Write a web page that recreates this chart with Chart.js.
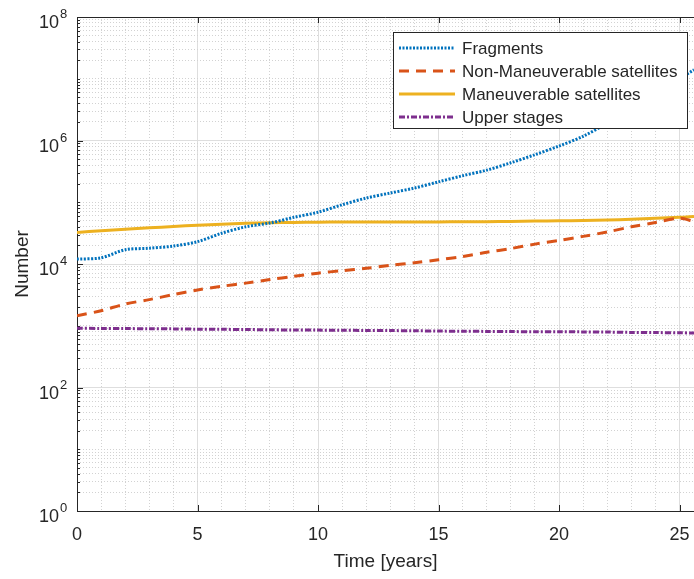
<!DOCTYPE html>
<html>
<head>
<meta charset="utf-8">
<script src="https://cdn.jsdelivr.net/npm/chart.js@4/dist/chart.umd.min.js"></script>
<style>
  html, body { margin: 0; padding: 0; background: #fff; overflow: hidden; }
</style>
</head>
<body>
<canvas id="chart" width="694" height="579"></canvas>
<script>
// values (years vs. number of objects)
const years = [0, 1, 2, 3, 4, 5, 6, 7, 8, 9, 10, 11, 12, 13, 14, 15, 16, 17, 18, 19, 20, 21, 22, 23, 24, 25, 25.6];
const fragments = [12000, 12600, 17000, 18000, 19500, 23000, 31500, 40000, 46000, 57000, 69000, 91000, 117000, 141000, 170000, 214000, 269000, 331000, 436000, 589000, 813000, 1170000, 1900000, 3200000, 5500000, 10000000, 14000000];
const nonManeuverable = [1450, 1750, 2250, 2650, 3200, 3800, 4350, 4900, 5600, 6300, 7100, 7800, 8500, 9500, 10500, 11700, 13200, 15500, 17800, 21000, 24000, 28000, 33000, 40000, 47000, 55000, 49000];
const maneuverable = [32500, 34500, 36500, 38500, 40500, 42500, 44000, 45500, 46500, 47000, 47500, 48000, 48000, 48000, 48000, 48000, 48500, 48500, 49000, 49500, 50000, 50500, 51500, 53000, 55000, 57000, 59000];
const upperStages = [910, 905, 900, 895, 890, 880, 875, 870, 860, 855, 850, 845, 840, 835, 830, 820, 815, 810, 805, 800, 800, 795, 790, 780, 775, 770, 760];
const seriesLabels = ['Fragments', 'Non-Maneuverable satellites', 'Maneuverable satellites', 'Upper stages'];

const xTicks = [0, 5, 10, 15, 20, 25];
const yTicks = [1, 1e2, 1e4, 1e6, 1e8];
const xMax = 25.6;

const FONT = '"Liberation Sans", Arial, sans-serif';
const INK = '#262626';

// minor grid positions
const xMinorTicks = [];
for (let i = 0; i <= 25; i++) if (i % 5 !== 0) xMinorTicks.push(i);
const yMinorTicks = [];
for (let n = 0; n < 8; n++) {
  for (let k = 1; k <= 9; k++) {
    const v = k * Math.pow(10, n);
    if (!yTicks.includes(v)) yMinorTicks.push(v);
  }
}

function pts(arr) {
  return years.map((x, i) => ({ x: x, y: arr[i] }));
}

// axes box: top border, inward ticks and 10^n labels like the original
const framePlugin = {
  id: 'frame',
  beforeDatasetsDraw(chart) {
    const { ctx, chartArea: a, scales } = chart;
    ctx.save();
    ctx.strokeStyle = INK;
    ctx.lineWidth = 1;
    ctx.beginPath();
    ctx.moveTo(a.left, a.top + 0.5);
    ctx.lineTo(a.right, a.top + 0.5);
    xTicks.forEach(v => {
      const px = Math.round(scales.x.getPixelForValue(v)) + 0.5;
      ctx.moveTo(px, a.bottom);
      ctx.lineTo(px, a.bottom - 6);
      ctx.moveTo(px, a.top);
      ctx.lineTo(px, a.top + 6);
    });
    yTicks.forEach(v => {
      const py = Math.round(scales.y.getPixelForValue(v)) + 0.5;
      ctx.moveTo(a.left, py);
      ctx.lineTo(a.left + 6, py);
    });
    yMinorTicks.forEach(v => {
      const py = Math.round(scales.y.getPixelForValue(v)) + 0.5;
      ctx.moveTo(a.left, py);
      ctx.lineTo(a.left + 3, py);
    });
    ctx.stroke();

    // y tick labels: "10" with a raised exponent
    ctx.fillStyle = INK;
    ctx.textBaseline = 'alphabetic';
    yTicks.forEach(v => {
      const py = scales.y.getPixelForValue(v);
      const e = String(Math.round(Math.log10(v)));
      ctx.font = '18px ' + FONT;
      ctx.textAlign = 'right';
      ctx.fillText('10', a.left - 18, py + 11);
      ctx.font = '13px ' + FONT;
      ctx.textAlign = 'left';
      ctx.fillText(e, a.left - 17, py + 1);
    });
    ctx.restore();
  }
};

// boxed legend in the upper right corner
const legendPlugin = {
  id: 'boxLegend',
  afterDraw(chart) {
    const { ctx, chartArea: a } = chart;
    const x0 = a.right - 301, y0 = a.top + 15, w = 294, h = 96;
    ctx.save();
    ctx.fillStyle = '#fff';
    ctx.fillRect(x0, y0, w, h);
    ctx.strokeStyle = INK;
    ctx.lineWidth = 1;
    ctx.strokeRect(x0 + 0.5, y0 + 0.5, w, h);
    chart.data.datasets.forEach((ds, i) => {
      const y = y0 + 16 + i * 23;
      ctx.strokeStyle = ds.borderColor;
      ctx.lineWidth = ds.borderWidth;
      ctx.setLineDash(ds.borderDash || []);
      ctx.beginPath();
      ctx.moveTo(x0 + 6, y);
      ctx.lineTo(x0 + 62, y);
      ctx.stroke();
      ctx.setLineDash([]);
      ctx.fillStyle = INK;
      ctx.font = '17px ' + FONT;
      ctx.textBaseline = 'middle';
      ctx.fillText(ds.label, x0 + 69, y + 1);
    });
    ctx.restore();
  }
};

new Chart(document.getElementById('chart'), {
  type: 'line',
  data: {
    datasets: [
      { label: seriesLabels[0], data: pts(fragments), borderColor: '#0072BD', borderWidth: 3, borderDash: [2, 1.5] },
      { label: seriesLabels[1], data: pts(nonManeuverable), borderColor: '#D95319', borderWidth: 3, borderDash: [10, 7] },
      { label: seriesLabels[2], data: pts(maneuverable), borderColor: '#EDB120', borderWidth: 3 },
      { label: seriesLabels[3], data: pts(upperStages), borderColor: '#7E2F8E', borderWidth: 3, borderDash: [6, 2, 2, 2] }
    ]
  },
  options: {
    responsive: false,
    animation: false,
    layout: { padding: { top: 17, left: 0, right: 0, bottom: 0 } },
    elements: { point: { radius: 0 }, line: { tension: 0.3, fill: false } },
    plugins: { legend: { display: false }, tooltip: { enabled: false } },
    scales: {
      x: {
        type: 'linear', min: 0, max: xMax,
        afterBuildTicks: s => { s.ticks = xTicks.map(v => ({ value: v })); },
        afterFit: s => { s.height = 68; s.paddingLeft = 0; s.paddingRight = 0; },
        ticks: { font: { family: FONT, size: 18 }, color: INK, padding: 13, maxRotation: 0, autoSkip: false },
        grid: { color: '#dedede', drawTicks: false },
        border: { display: true, color: INK, width: 1 },
        title: { display: true, text: 'Time [years]', font: { family: FONT, size: 19 }, color: INK, padding: { top: 0, bottom: 6 } }
      },
      xMinor: {
        type: 'linear', position: 'bottom', min: 0, max: xMax,
        afterBuildTicks: s => { s.ticks = xMinorTicks.map(v => ({ value: v })); },
        afterFit: s => { s.height = 0; s.paddingLeft = 0; s.paddingRight = 0; },
        ticks: { display: false },
        grid: { color: '#d2d2d2', drawTicks: false },
        border: { display: false, dash: [1, 2] }
      },
      y: {
        type: 'logarithmic', min: 1, max: 1e8,
        afterBuildTicks: s => { s.ticks = yTicks.map(v => ({ value: v })); },
        afterFit: s => { s.width = 77; s.paddingTop = 0; s.paddingBottom = 0; },
        ticks: { display: false },
        grid: { color: '#dedede', drawTicks: false },
        border: { display: true, color: INK, width: 1 },
        title: { display: true, text: 'Number', font: { family: FONT, size: 19 }, color: INK, padding: { top: 11, bottom: 0 } }
      },
      yMinor: {
        type: 'logarithmic', position: 'left', min: 1, max: 1e8,
        afterBuildTicks: s => { s.ticks = yMinorTicks.map(v => ({ value: v })); },
        afterFit: s => { s.width = 0; s.paddingTop = 0; s.paddingBottom = 0; },
        ticks: { display: false },
        grid: { color: '#d2d2d2', drawTicks: false },
        border: { display: false, dash: [1, 2] }
      }
    }
  },
  plugins: [framePlugin, legendPlugin]
});
</script>
</body>
</html>
